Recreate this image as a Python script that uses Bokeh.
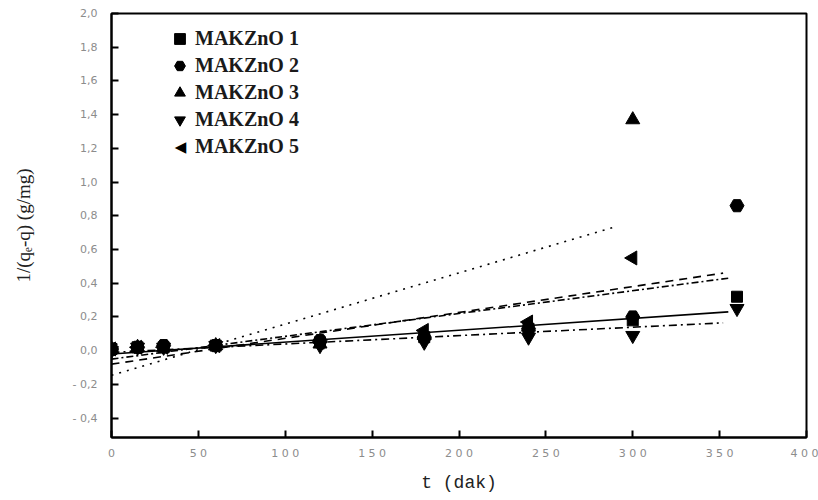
from bokeh.plotting import figure
from bokeh.models import Range1d, Legend, LegendItem, FixedTicker, Label
from bokeh.embed import file_html
from bokeh.resources import INLINE

# ---- data ----
t_all = [0, 15, 30, 60, 120, 180, 240, 300, 360]
t_300 = [0, 15, 30, 60, 120, 180, 240, 300]

mak1 = [0.01, 0.02, 0.02, 0.03, 0.05, 0.08, 0.13, 0.18, 0.32]
mak2 = [0.01, 0.02, 0.03, 0.03, 0.06, 0.08, 0.13, 0.20, 0.86]
mak3 = [0.01, 0.02, 0.02, 0.03, 0.04, 0.09, 0.14, 1.37]
mak4 = [0.00, 0.02, 0.02, 0.03, 0.03, 0.05, 0.08, 0.09, 0.25]
mak5 = [0.01, 0.02, 0.02, 0.03, 0.05, 0.12, 0.17, 0.55]

labels = ["MAKZnO 1", "MAKZnO 2", "MAKZnO 3", "MAKZnO 4", "MAKZnO 5"]

# fitted line end points (t_start, t_end, y_start, y_end)
fit_t0 = [0, 0, 0, 0, 0]
fit_t1 = [355, 355, 290, 352, 352]
fit_y0 = [-0.02, -0.05, -0.146, -0.01, -0.08]
fit_y1 = [0.23, 0.43, 0.735, 0.165, 0.46]
fit_dash = ["solid", "7 3 2 3", "2 6", "8 4 2 4", "8 6"]

x_ticks = [0, 50, 100, 150, 200, 250, 300, 350, 400]
y_ticks = [-0.4, -0.2, 0.0, 0.2, 0.4, 0.6, 0.8, 1.0, 1.2, 1.4, 1.6, 1.8, 2.0]

p = figure(width=818, height=500, output_backend="svg", toolbar_location=None,
           x_range=Range1d(0, 400), y_range=Range1d(-0.515, 2.0),
           min_border_left=111, min_border_right=12, min_border_top=13,
           min_border_bottom=63)
p.grid.visible = False
p.outline_line_color = "black"
p.outline_line_width = 2
p.background_fill_color = "white"
p.border_fill_color = "white"

for ax in (p.xaxis[0], p.yaxis[0]):
    ax.axis_line_width = 2
    ax.major_tick_in = 7
    ax.major_tick_out = 0
    ax.minor_tick_in = 0
    ax.minor_tick_out = 0
    ax.major_tick_line_width = 2
    ax.major_label_text_color = "#8c8c8c"
    ax.major_label_text_font = "DejaVu Sans"
    ax.major_label_text_font_size = "11px"
    ax.axis_label_text_font_style = "normal"
    ax.axis_label_text_color = "#222222"

p.xaxis.ticker = FixedTicker(ticks=x_ticks)
p.xaxis.major_label_overrides = {v: " ".join(str(v)) for v in x_ticks}
p.xaxis.major_label_standoff = 9
p.xaxis.axis_label = "t (dak)"
p.xaxis.axis_label_text_font = "Liberation Mono"
p.xaxis.axis_label_text_font_size = "18px"
p.xaxis.axis_label_standoff = 10

p.yaxis.ticker = FixedTicker(ticks=y_ticks)
p.yaxis.major_label_overrides = {v: (f"{v:.1f}".replace(".", ",")).replace("-", "- ") for v in y_ticks}
p.yaxis.major_label_standoff = 14
p.yaxis.axis_label = "1/(qₑ-q) (g/mg)"
p.yaxis.axis_label_text_font = "Liberation Serif"
p.yaxis.axis_label_text_font_size = "19px"
p.yaxis.axis_label_standoff = 36

# fitted lines
for i in range(5):
    p.line([fit_t0[i], fit_t1[i]], [fit_y0[i], fit_y1[i]], line_color="black",
           line_width=1.6, line_dash=fit_dash[i])

series = [(t_all, mak1, "square", 11),
          (t_all, mak2, "hex", 14),
          (t_300, mak3, "triangle", 14),
          (t_all, mak4, "inverted_triangle", 14),
          (t_300, mak5, "triangle", 14)]

items = []
for i, (tx, ys, mk, sz) in enumerate(series):
    if i == 4:
        p.scatter(tx, ys, marker="triangle", size=sz, angle=1.5708,
                  fill_color="black", line_color="black")
        # legend key drawn separately (legend keys ignore marker angle)
        r = p.scatter([], [], marker="triangle", size=sz, fill_alpha=0, line_alpha=0)
    else:
        r = p.scatter(tx, ys, marker=mk, size=sz, fill_color="black", line_color="black")
    items.append(LegendItem(label=labels[i], renderers=[r]))

leg = Legend(items=items, location=(50, 272), border_line_alpha=0,
             background_fill_alpha=0, label_text_font="Liberation Serif",
             label_text_font_style="bold", label_text_font_size="20px",
             label_text_color="#1a1a1a",
             glyph_width=27, glyph_height=27, label_standoff=2, spacing=0,
             label_height=27, padding=5, margin=0)
p.add_layout(leg, "center")

p.add_layout(Label(x=69, y=291, x_units="screen", y_units="screen", text="◀",
                   text_font="DejaVu Sans", text_font_size="15px",
                   text_align="center", text_baseline="middle", text_color="black"))

open("out.html", "w").write(file_html(p, INLINE))
